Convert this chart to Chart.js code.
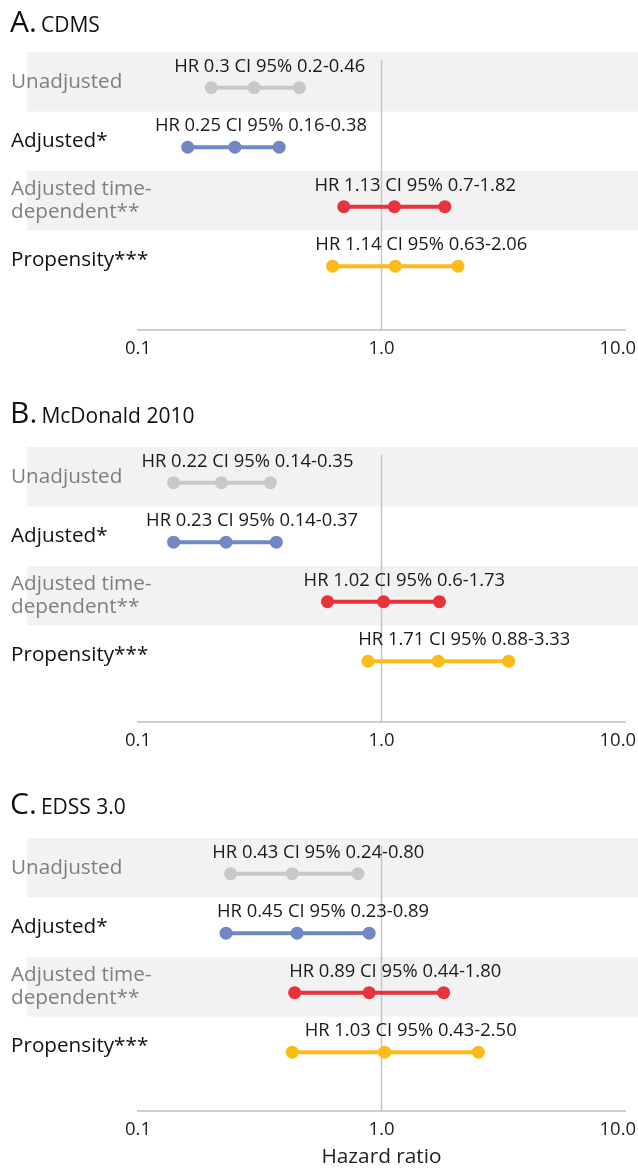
<!DOCTYPE html>
<html><head><meta charset="utf-8">
<script src="https://cdn.jsdelivr.net/npm/chart.js@4.4.1/dist/chart.umd.min.js"></script>
<style>
html,body{margin:0;padding:0;background:#fff;}
body{width:638px;height:1170px;position:relative;overflow:hidden;font-family:"Open Sans",sans-serif;}
.panel{position:absolute;left:0;width:638px;}
.ttl{position:absolute;left:10px;color:#111;white-space:nowrap;line-height:1;z-index:2}
.ttl .big{font-size:30px}
.ttl .small{font-size:21px}
canvas{position:absolute;left:0;top:0}
</style></head><body>
<div id="wrap"></div>
<script>
// ---- data ----
const rowLabels = [["Unadjusted"], ["Adjusted*"], ["Adjusted time-", "dependent**"], ["Propensity***"]];
const rowLabelColors = ["#7f7f7f", "#111111", "#7f7f7f", "#111111"];
const seriesColors = ["#c8c8c8", "#7088c4", "#e8323c", "#fbbc18"];
const tickValues = [0.1, 1, 10];
const tickLabels = ["0.1", "1.0", "10.0"];
const panelLetters = ["A.", "B.", "C."];
const panelNames = ["CDMS", "McDonald 2010", "EDSS 3.0"];
const axisTitle = "Hazard ratio";

const hrA = [0.3, 0.25, 1.13, 1.14];
const loA = [0.2, 0.16, 0.7, 0.63];
const hiA = [0.46, 0.38, 1.82, 2.06];
const textA = ["HR 0.3 CI 95% 0.2-0.46", "HR 0.25 CI 95% 0.16-0.38", "HR 1.13 CI 95% 0.7-1.82", "HR 1.14 CI 95% 0.63-2.06"];

const hrB = [0.22, 0.23, 1.02, 1.71];
const loB = [0.14, 0.14, 0.6, 0.88];
const hiB = [0.35, 0.37, 1.73, 3.33];
const textB = ["HR 0.22 CI 95% 0.14-0.35", "HR 0.23 CI 95% 0.14-0.37", "HR 1.02 CI 95% 0.6-1.73", "HR 1.71 CI 95% 0.88-3.33"];

const hrC = [0.43, 0.45, 0.89, 1.03];
const loC = [0.24, 0.23, 0.44, 0.43];
const hiC = [0.80, 0.89, 1.80, 2.50];
const textC = ["HR 0.43 CI 95% 0.24-0.80", "HR 0.45 CI 95% 0.23-0.89", "HR 0.89 CI 95% 0.44-1.80", "HR 1.03 CI 95% 0.43-2.50"];

// ---- layout (pixels, per panel) ----
const panels = [
  {top: 0,   h: 391, padTop: 52, axisY: 330, hr: hrA, lo: loA, hi: hiA, text: textA, xTitle: false},
  {top: 391, h: 391, padTop: 56, axisY: 331, hr: hrB, lo: loB, hi: hiB, text: textB, xTitle: false},
  {top: 782, h: 388, padTop: 56, axisY: 329, hr: hrC, lo: loC, hi: hiC, text: textC, xTitle: true}
];
const ROW_H = 59.5, DOT_OFF = 0.6, FONT = '"Open Sans", sans-serif';

const wrap = document.getElementById('wrap');
panels.forEach((p, pi) => {
  const div = document.createElement('div');
  div.className = 'panel';
  div.style.top = p.top + 'px';
  div.style.height = p.h + 'px';
  const t = document.createElement('div');
  t.className = 'ttl';
  t.style.top = '6px';
  t.innerHTML = '<span class="big">' + panelLetters[pi] + '</span> <span class="small">' + panelNames[pi] + '</span>';
  const cv = document.createElement('canvas');
  cv.width = 638; cv.height = p.h;
  cv.style.width = '638px'; cv.style.height = p.h + 'px';
  div.appendChild(cv); div.appendChild(t);
  wrap.appendChild(div);

  const yMax = (p.axisY - p.padTop) / ROW_H;
  const datasets = p.hr.map((v, i) => ({
    type: 'line',
    data: [{x: p.lo[i], y: i + DOT_OFF}, {x: v, y: i + DOT_OFF}, {x: p.hi[i], y: i + DOT_OFF}],
    borderColor: seriesColors[i],
    backgroundColor: seriesColors[i],
    borderWidth: 4,
    pointRadius: 6.5,
    pointBorderWidth: 0,
    pointBackgroundColor: seriesColors[i],
    tension: 0
  }));
  datasets.push({
    type: 'line',
    data: [{x: 1, y: 0.13}, {x: 1, y: yMax}],
    borderColor: '#c6c6c6', borderWidth: 1.5, pointRadius: 0
  });

  const forestPlugin = {
    id: 'forest' + pi,
    beforeDraw(chart) {
      const {ctx} = chart;
      const ys = chart.scales.y;
      ctx.save();
      ctx.fillStyle = '#f2f2f2';
      [0, 2].forEach(i => {
        const y0 = ys.getPixelForValue(i), y1 = ys.getPixelForValue(i + 1);
        ctx.fillRect(27, y0, chart.width - 27, y1 - y0);
      });
      ctx.font = '20.7px ' + FONT;
      ctx.textBaseline = 'middle';
      ctx.textAlign = 'left';
      rowLabels.forEach((lines, i) => {
        ctx.fillStyle = rowLabelColors[i];
        const yc = ys.getPixelForValue(i + 0.5);
        const lh = 23;
        lines.forEach((ln, k) => {
          ctx.fillText(ln, 11, yc + (k - (lines.length - 1) / 2) * lh);
        });
      });
      ctx.restore();
    },
    afterDatasetsDraw(chart) {
      const {ctx} = chart;
      const xs = chart.scales.x, ys = chart.scales.y;
      ctx.save();
      ctx.font = '18.4px ' + FONT;
      ctx.fillStyle = '#1a1a1a';
      ctx.textBaseline = 'middle';
      ctx.textAlign = 'left';
      p.text.forEach((s, i) => {
        const x = xs.getPixelForValue(p.hr[i]) - 80;
        const y = ys.getPixelForValue(i + DOT_OFF) - 21;
        ctx.fillText(s, x, y);
      });
      ctx.restore();
    }
  };

  new Chart(cv, {
    type: 'line',
    data: {datasets},
    plugins: [forestPlugin],
    options: {
      responsive: false,
      animation: false,
      devicePixelRatio: 1,
      layout: {padding: {top: p.padTop, left: 138, right: 13, bottom: 0}},
      plugins: {legend: {display: false}, tooltip: {enabled: false}, title: {display: false}},
      scales: {
        x: {
          type: 'logarithmic', min: 0.1, max: 10,
          afterBuildTicks: s => { s.ticks = tickValues.map(v => ({value: v})); },
          afterFit: s => { s.height = p.h - p.axisY; s.paddingRight = 0; s.paddingLeft = 0; },
          grid: {display: false, drawTicks: false},
          border: {display: true, color: '#cfcfcf', width: 2},
          ticks: {
            padding: 8, color: '#222', font: {family: FONT, size: 18.5},
            autoSkip: false, maxRotation: 0,
            // last label sits slightly inside the right edge, as in the original
            callback: (v, i) => i === tickLabels.length - 1 ? tickLabels[i] + '\u00a0\u00a0\u00a0' : tickLabels[i]
          },
          title: {display: p.xTitle, text: axisTitle, color: '#222', font: {family: FONT, size: 20.8}, padding: {top: 0, bottom: 0}}
        },
        y: {type: 'linear', min: 0, max: yMax, reverse: true, display: false}
      }
    }
  });
});
</script>
</body></html>
